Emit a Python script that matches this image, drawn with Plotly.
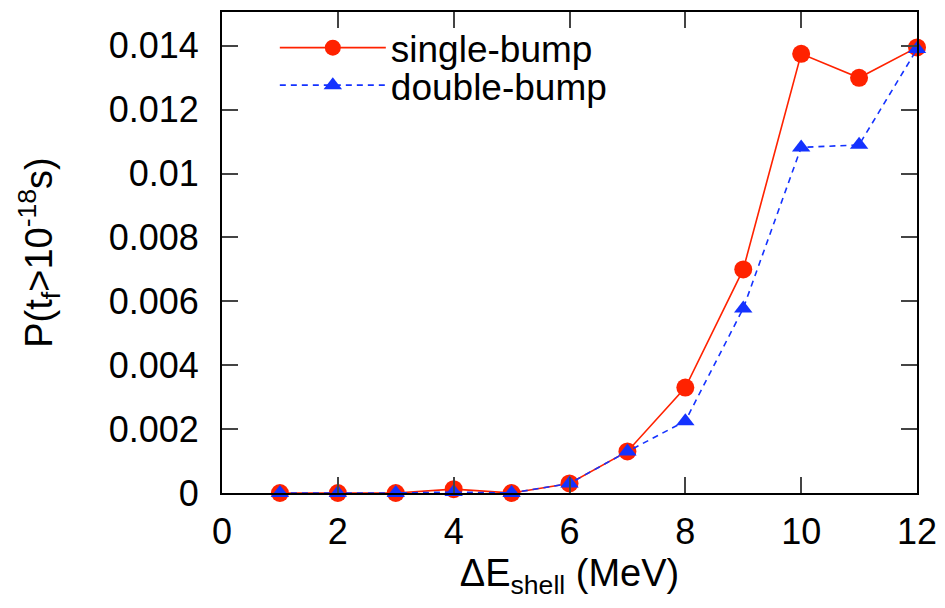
import plotly.graph_objects as go

energy = [1, 2, 3, 4, 5, 6, 7, 8, 9, 10, 11, 12]
single_bump = [0.0, 0.0, 0.0, 0.00012, 0.0, 0.0003, 0.0013, 0.0033, 0.0070, 0.01375, 0.0130, 0.01395]
double_bump = [0.0, 0.0, 0.0, 0.00003, 0.0, 0.0003, 0.0013, 0.00225, 0.00578, 0.01082, 0.0109, 0.0139]
x_ticks = [0, 2, 4, 6, 8, 10, 12]
y_ticks = [0, 0.002, 0.004, 0.006, 0.008, 0.01, 0.012, 0.014]
y_tick_labels = ["0", "0.002", "0.004", "0.006", "0.008", "0.01", "0.012", "0.014"]

red = "rgb(255,34,0)"
blue = "rgb(20,50,255)"

fig = go.Figure()
fig.add_trace(go.Scatter(
    x=energy, y=single_bump, name="single-bump", mode="lines+markers",
    line=dict(color=red, width=1.6),
    marker=dict(symbol="circle", size=18, color=red),
    cliponaxis=False, legend="legend",
))
fig.add_trace(go.Scatter(
    x=energy, y=double_bump, name="double-bump", mode="lines+markers",
    line=dict(color=blue, width=1.6, dash="6px,5px"),
    marker=dict(symbol="triangle-up", size=16, color=blue),
    cliponaxis=False, legend="legend2",
))

fam = "Liberation Sans, Arial, Helvetica, sans-serif"
tick_font = dict(family=fam, size=36, color="black")
legend_common = dict(
    x=0.076, xanchor="left", yanchor="middle",
    bgcolor="rgba(0,0,0,0)", font=dict(family=fam, size=37),
    itemwidth=106,
)
fig.update_layout(
    width=937, height=600,
    margin=dict(l=214, r=28, t=2, b=115),
    plot_bgcolor="white", paper_bgcolor="white",
    font=dict(family=fam, size=36, color="black"),
    showlegend=True,
    legend=dict(y=0.925, **legend_common),
    legend2=dict(y=0.847, **legend_common),
    xaxis=dict(
        range=[0, 12], tickvals=x_ticks, ticks="inside", ticklen=16, tickwidth=2,
        showline=True, linecolor="black", linewidth=2, mirror="ticks",
        showgrid=False, zeroline=False, tickfont=tick_font,
        ticklabelstandoff=6,
        title=dict(text="ΔE<sub>shell</sub> (MeV)", font=dict(family=fam, size=38), standoff=6),
    ),
    yaxis=dict(
        range=[0, 0.01506], tickvals=y_ticks, ticktext=y_tick_labels,
        ticks="inside", ticklen=16, tickwidth=2,
        showline=True, linecolor="black", linewidth=2, mirror="ticks",
        showgrid=False, zeroline=False, tickfont=tick_font,
        ticklabelstandoff=14,
        title=dict(text="P(t<sub>f</sub>>10<sup>-18</sup>s)", font=dict(family=fam, size=38), standoff=44),
    ),
)
fig.write_html("out.html")
